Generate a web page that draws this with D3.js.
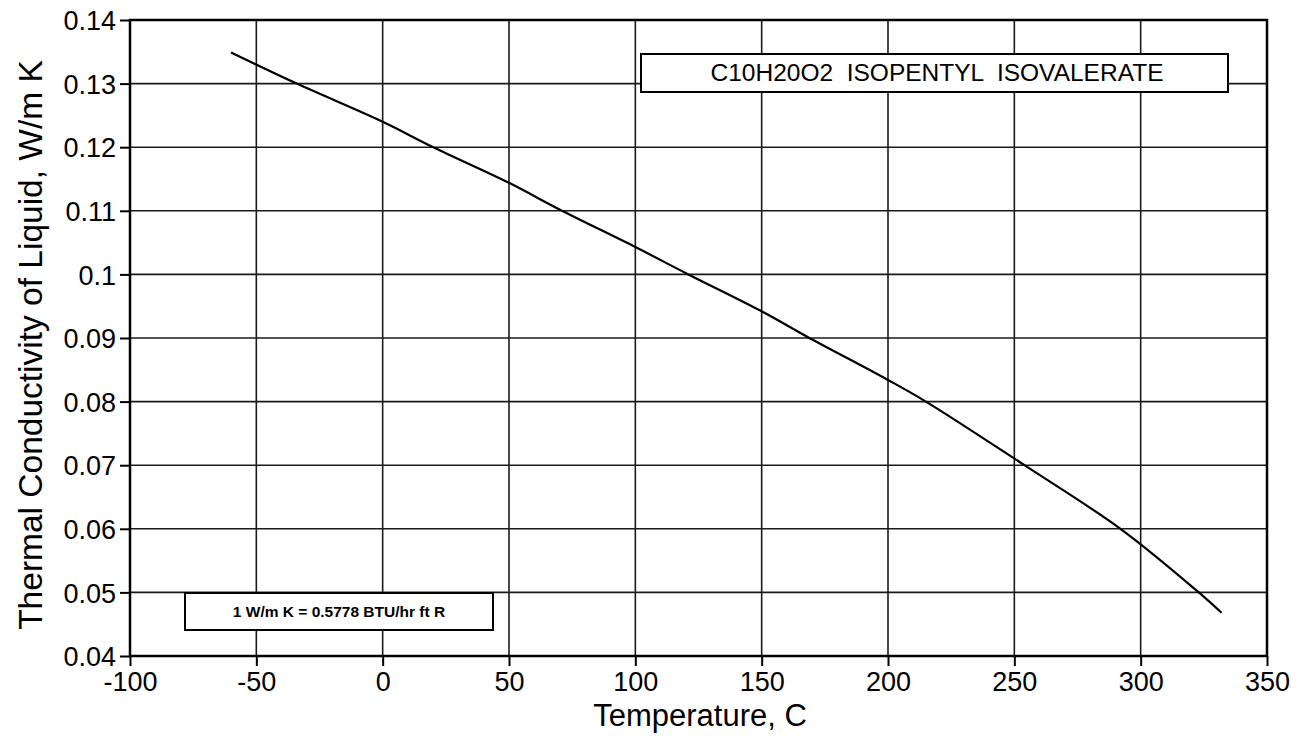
<!DOCTYPE html>
<html>
<head>
<meta charset="utf-8">
<script src="https://cdn.jsdelivr.net/npm/d3@7"></script>
<style>
  html, body { margin: 0; padding: 0; background: #fff; }
  svg { display: block; font-family: "Liberation Sans", Arial, Helvetica, sans-serif; }
</style>
</head>
<body>
<svg id="chart" width="1311" height="736"></svg>
<script>
// Data
const temperatureC = [-60, -34, 0, 20, 50, 70, 100, 121, 150, 168, 200, 215, 254, 292, 323, 332];
const conductivity = [0.1349, 0.1300, 0.1240, 0.1200, 0.1144, 0.1102, 0.1043, 0.1000, 0.0942, 0.0902, 0.0834, 0.0800, 0.0700, 0.0600, 0.0500, 0.0468];
const xTicks = [-100, -50, 0, 50, 100, 150, 200, 250, 300, 350];
const xTickLabels = ["-100", "-50", "0", "50", "100", "150", "200", "250", "300", "350"];
const yTicks = [0.04, 0.05, 0.06, 0.07, 0.08, 0.09, 0.1, 0.11, 0.12, 0.13, 0.14];
const yTickLabels = ["0.04", "0.05", "0.06", "0.07", "0.08", "0.09", "0.1", "0.11", "0.12", "0.13", "0.14"];
const titleText = "C10H20O2  ISOPENTYL  ISOVALERATE";
const unitText = "1 W/m K = 0.5778 BTU/hr ft R";
const xTitle = "Temperature, C";
const yTitle = "Thermal Conductivity of Liquid, W/m K";

const svg = d3.select("#chart");
const L = 130, R = 1267, T = 20, B = 656;

const x = d3.scaleLinear().domain([-100, 350]).range([L, R]);
const y = d3.scaleLinear().domain([0.04, 0.14]).range([B, T]);

// grid
const grid = svg.append("g");
grid.selectAll("line.v").data(xTicks).enter().append("line")
  .attr("x1", d => x(d)).attr("x2", d => x(d)).attr("y1", T).attr("y2", B)
  .attr("stroke", "#1a1a1a").attr("stroke-width", 1.6);
grid.selectAll("line.h").data(yTicks).enter().append("line")
  .attr("x1", L).attr("x2", R).attr("y1", d => y(d)).attr("y2", d => y(d))
  .attr("stroke", "#1a1a1a").attr("stroke-width", 1.6);

// axes
const xAxis = d3.axisBottom(x).tickValues(xTicks).tickSize(10).tickPadding(3).tickFormat((d, i) => xTickLabels[i]);
const yAxis = d3.axisLeft(y).tickValues(yTicks).tickSize(10).tickPadding(4).tickFormat((d, i) => yTickLabels[i]);

const gx = svg.append("g").attr("transform", `translate(0,${B})`).call(xAxis);
const gy = svg.append("g").attr("transform", `translate(${L},0)`).call(yAxis);
[gx, gy].forEach(g => {
  g.select(".domain").remove();
  g.selectAll(".tick line").attr("stroke", "#000").attr("stroke-width", 2);
  g.selectAll(".tick text").attr("fill", "#000").attr("font-size", 27)
    .attr("font-family", "Liberation Sans, Arial, sans-serif");
});
gx.selectAll(".tick text").attr("dy", "0.8em");
gy.selectAll(".tick text").attr("dy", "0.36em");

// frame
svg.append("rect").attr("x", L).attr("y", T).attr("width", R - L).attr("height", B - T)
  .attr("fill", "none").attr("stroke", "#000").attr("stroke-width", 2.5);

// curve
const line = d3.line().x((d, i) => x(temperatureC[i])).y(d => y(d)).curve(d3.curveCatmullRom.alpha(0.5));
svg.append("path").datum(conductivity).attr("d", line)
  .attr("fill", "none").attr("stroke", "#000").attr("stroke-width", 2.2);

// title box
svg.append("rect").attr("x", 641).attr("y", 54).attr("width", 587).attr("height", 38)
  .attr("fill", "#fff").attr("stroke", "#000").attr("stroke-width", 2);
svg.append("text").attr("x", 937).attr("y", 81).attr("text-anchor", "middle")
  .attr("font-size", 24.5).attr("fill", "#000").attr("xml:space", "preserve").style("white-space", "pre")
  .text(titleText);

// unit box
svg.append("rect").attr("x", 185).attr("y", 593).attr("width", 308).attr("height", 37)
  .attr("fill", "#fff").attr("stroke", "#000").attr("stroke-width", 2);
svg.append("text").attr("x", 339).attr("y", 617).attr("text-anchor", "middle")
  .attr("font-size", 15.5).attr("font-weight", "bold").attr("fill", "#000")
  .text(unitText);

// axis titles
svg.append("text").attr("x", 700).attr("y", 726).attr("text-anchor", "middle")
  .attr("font-size", 31).attr("fill", "#000").text(xTitle);
svg.append("text").attr("transform", "translate(42,345) rotate(-90)").attr("text-anchor", "middle")
  .attr("font-size", 33.5).attr("fill", "#000").text(yTitle);
</script>
</body>
</html>
